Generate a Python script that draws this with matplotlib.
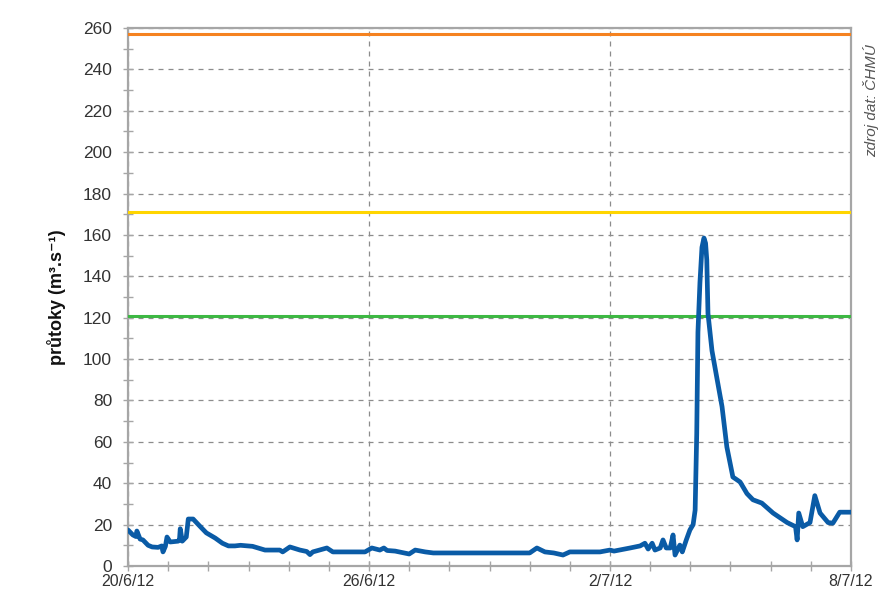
import numpy as np
import matplotlib
matplotlib.use("Agg")
import matplotlib.pyplot as plt
from matplotlib.ticker import MultipleLocator, FixedLocator

# ------------------------------------------------------------
# Data (days since 20/6/12, discharge in m3/s)
# ------------------------------------------------------------
days = [0.0, 0.12, 0.2, 0.22, 0.3, 0.37, 0.5, 0.6, 0.75, 0.84, 0.87, 0.93, 0.97,
        1.05, 1.25, 1.28, 1.3, 1.35, 1.45, 1.5, 1.62, 1.8, 1.95, 2.17, 2.35,
        2.5, 2.66, 2.8, 3.1, 3.41, 3.78, 3.85, 4.03, 4.28, 4.45, 4.53, 4.6,
        4.95, 5.1, 5.9, 6.07, 6.27, 6.37, 6.45, 6.65, 7.0, 7.15, 7.4, 7.6,
        8.5, 9.5, 10.0, 10.18, 10.38, 10.6, 10.83, 11.0, 11.75, 12.0, 12.1,
        12.5, 12.75, 12.87, 12.95, 13.05, 13.12, 13.25, 13.32, 13.4, 13.5,
        13.57, 13.62, 13.74, 13.8, 13.9, 13.99, 14.07, 14.12, 14.16, 14.19,
        14.24, 14.29, 14.34, 14.38, 14.41, 14.44, 14.54, 14.66, 14.79, 14.91,
        15.06, 15.24, 15.41, 15.56, 15.78, 16.06, 16.41, 16.62, 16.66, 16.7,
        16.8, 16.98, 17.1, 17.23, 17.43, 17.55, 17.72, 17.97, 18.0]
flow = [17.4, 15.0, 14.2, 16.9, 13.0, 12.6, 10.0, 9.2, 9.0, 9.7, 6.8, 9.5, 14.0,
        11.6, 12.0, 12.5, 18.0, 12.0, 14.0, 22.7, 22.7, 19.0, 16.0, 13.5, 11.0,
        9.7, 9.7, 10.0, 9.5, 7.7, 7.7, 6.8, 9.2, 7.7, 7.0, 5.5, 6.8,
        8.7, 6.8, 6.8, 8.7, 7.7, 8.7, 7.5, 7.2, 5.8, 7.7, 6.8, 6.3,
        6.3, 6.3, 6.3, 8.7, 6.8, 6.3, 5.3, 6.8, 6.8, 7.7, 7.2,
        8.7, 9.7, 11.0, 8.2, 11.0, 7.7, 8.7, 12.6, 8.7, 8.7,
        15.0, 5.3, 10.1, 6.8, 12.6, 17.4, 20.0, 27.0, 64.0, 113.0,
        137.0, 154.0, 158.5, 156.0, 148.0, 122.0, 104.0, 91.0, 77.0, 57.5,
        43.0, 40.6, 35.0, 32.0, 30.4, 25.6, 21.0, 19.0, 12.6, 25.6,
        19.0, 21.0, 34.0, 25.6, 21.0, 20.7, 26.0, 26.0, 26.0]

# flood warning levels (SPA 1, 2, 3)
levels = [121, 171, 257]
level_colors = ["#3db843", "#ffd500", "#f58220"]

tick_days = [0, 6, 12, 18]
tick_labels = ["20/6/12", "26/6/12", "2/7/12", "8/7/12"]

# ------------------------------------------------------------
# Plot
# ------------------------------------------------------------
plt.rcParams["font.family"] = ["Liberation Sans", "DejaVu Sans"]

fig = plt.figure(figsize=(8.8, 5.9), dpi=100)
ax = fig.add_axes([0.1455, 0.0407, 0.8215, 0.9118])

axis_gray = "#a6a6a6"
grid_gray = "#8c8c8c"

ax.grid(True, which="major", axis="both", color=grid_gray, ls=(0, (4, 4)),
        lw=0.9, zorder=1)
ax.set_axisbelow(True)

for lvl, col in zip(levels, level_colors):
    ax.axhline(lvl, color=col, lw=2.2, zorder=3)

ax.plot(days, flow, color="#0a5ba6", lw=3.4, solid_joinstyle="round",
        solid_capstyle="round", zorder=4)

ax.set_xlim(0, 18)
ax.set_ylim(0, 260)

ax.yaxis.set_major_locator(MultipleLocator(20))
ax.yaxis.set_minor_locator(MultipleLocator(10))
ax.xaxis.set_major_locator(FixedLocator(tick_days))
ax.xaxis.set_minor_locator(MultipleLocator(1))
ax.set_xticklabels(tick_labels)

ax.tick_params(axis="both", which="both", color=axis_gray, direction="inout",
               length=7, width=1.0, labelcolor="#333333")
ax.tick_params(axis="y", labelsize=12.5, pad=8)
ax.tick_params(axis="x", labelsize=11.5, pad=2)

for s in ax.spines.values():
    s.set_color(axis_gray)
    s.set_linewidth(1.6)

ax.set_ylabel("průtoky (m³.s⁻¹)", fontsize=13, fontweight="bold",
              color="#111111", labelpad=12)

fig.text(0.99, 0.83, "zdroj dat: ČHMÚ", rotation=90, fontsize=11,
         style="italic", color="#555555", ha="center", va="center")

fig.savefig("out.png", dpi=100)
